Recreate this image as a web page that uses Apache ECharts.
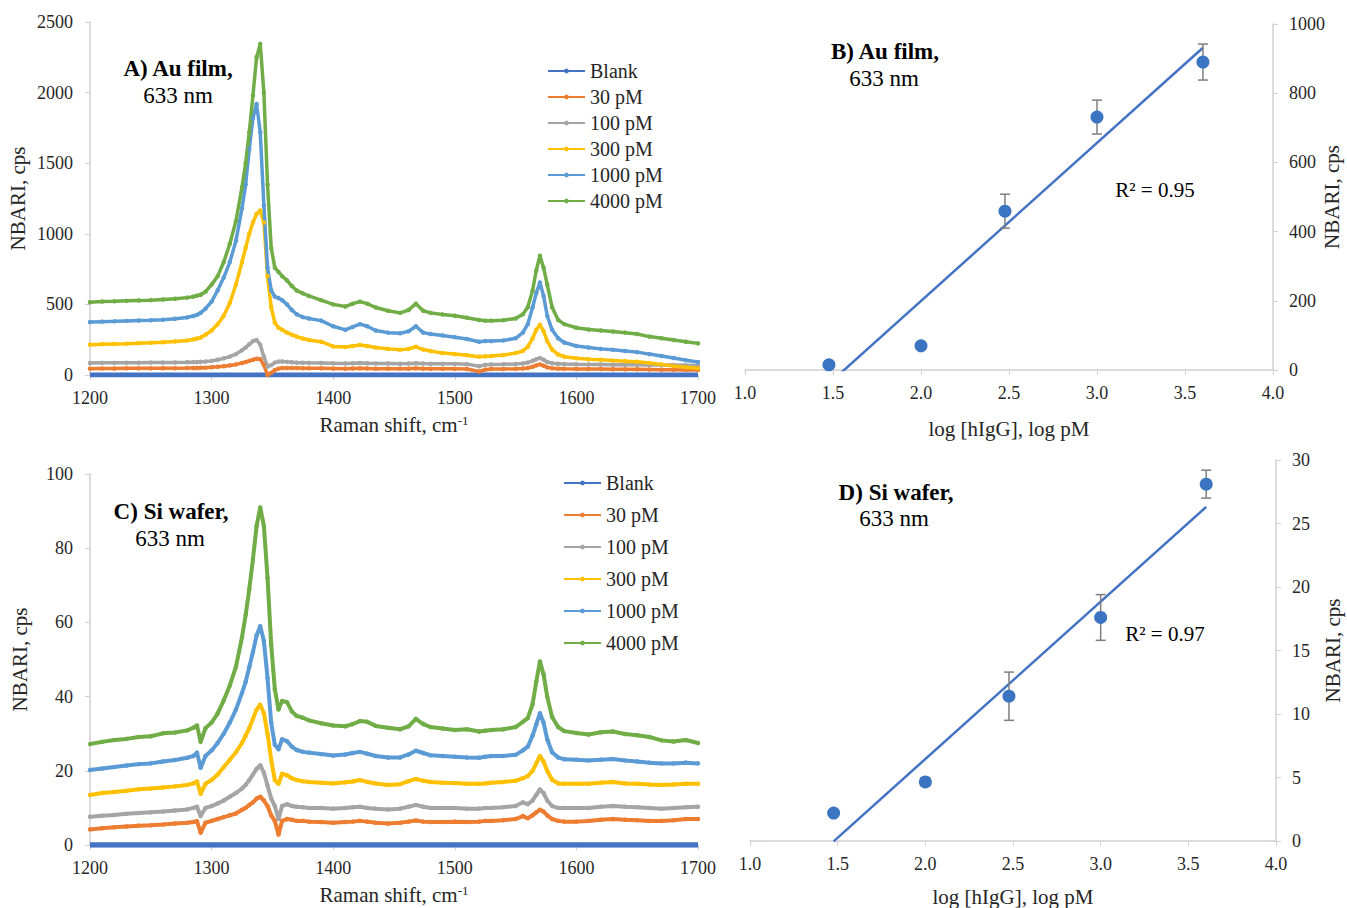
<!DOCTYPE html>
<html>
<head>
<meta charset="utf-8">
<title>NBARI spectra and calibration</title>
<script src="https://cdn.jsdelivr.net/npm/echarts@6/dist/echarts.min.js"></script>
</head>
<body style="margin:0">
<div id="main" style="width:1347px;height:908px;"></div>
<script>
// Raman shift, cm-1 (shared by both spectra panels)
var shift = [1200,1210,1220,1230,1240,1250,1260,1270,1280,
  1285,1288,1291,1295,1300,
  1305,1310,1315,1320,1325,
  1328,1331,1334,1337,1340,1343,1346,1349,1352,1355,1358,
  1362,1366,1370,1375,1380,
  1390,1400,1410,1416,1422,1428,1435,
  1445,1455,1462,1468,1474,1480,
  1490,1500,1510,1520,1525,1530,
  1540,1550,1556,1560,1564,1567,1570,1573,1576,1580,
  1585,1590,1600,1610,1620,1630,1640,1650,1660,1670,1680,1690,1700];

// A) Au film, NBARI (cps)
var auBlank = [0,0,0,0,0,0,0,0,0, 0,0,0,0,0, 0,0,0,0,0, 0,0,0,0,0,0,0,0,0,0,0, 0,0,0,0,0,
  0,0,0,0,0,0,0, 0,0,0,0,0,0, 0,0,0,0,0,0, 0,0,0,0,0,0,0,0,0,0, 0,0,0,0,0,0,0,0,0,0,0,0,0];
var au30 = [45,46,46,47,47,47,48,48,49,
  50,50,51,52,55,
  58,62,68,75,85,
  92,100,108,115,112,70,0,15,35,45,50,
  50,49,49,48,48,
  47,46,45,46,47,46,45,
  45,45,45,47,45,44,
  44,44,43,25,38,42,
  43,44,46,50,58,68,75,66,54,48,
  45,44,43,42,42,41,40,40,39,38,37,36,35];
var au100 = [85,86,86,87,87,88,88,89,90,
  91,92,93,95,100,
  108,118,130,148,175,
  195,218,240,248,215,130,60,70,88,95,96,
  93,90,88,87,86,
  85,83,82,83,85,83,82,
  81,80,81,84,81,80,
  80,79,77,62,72,75,
  76,78,82,88,100,112,120,108,92,84,
  80,78,76,75,74,73,72,72,71,70,70,69,68];
var au300 = [215,218,220,222,225,228,232,238,245,
  252,258,265,285,315,
  360,420,510,640,800,
  900,1000,1080,1140,1165,1080,700,480,370,335,320,
  300,285,272,258,248,
  236,202,198,205,213,205,195,
  185,178,185,200,180,170,
  155,148,140,130,132,135,
  142,155,170,200,260,320,355,310,240,180,
  145,130,118,112,108,102,98,94,85,75,64,55,47];
var au1000 = [375,378,380,383,386,388,392,398,408,
  418,426,440,470,520,
  600,690,800,950,1180,
  1350,1600,1820,1920,1720,1200,760,600,555,545,530,
  500,460,430,410,400,
  385,345,320,340,360,345,315,
  300,295,310,345,300,290,
  280,268,255,236,240,240,
  245,260,300,360,480,580,655,560,420,320,
  260,230,205,195,185,178,170,162,148,135,120,105,92];
var au4000 = [515,520,522,525,528,530,535,540,548,
  555,562,568,590,640,
  700,800,930,1090,1330,
  1500,1720,1980,2250,2345,2000,1350,900,760,730,700,
  670,630,598,578,560,
  530,500,485,505,520,505,478,
  455,440,460,505,455,440,
  428,420,405,390,385,385,
  388,400,430,480,600,740,845,760,640,480,
  390,360,335,322,315,308,300,290,272,260,248,236,224];

// C) Si wafer, NBARI (cps)
var siBlank = [0,0,0,0,0,0,0,0,0, 0,0,0,0,0, 0,0,0,0,0, 0,0,0,0,0,0,0,0,0,0,0, 0,0,0,0,0,
  0,0,0,0,0,0,0, 0,0,0,0,0,0, 0,0,0,0,0,0, 0,0,0,0,0,0,0,0,0,0, 0,0,0,0,0,0,0,0,0,0,0,0,0];
var si30 = [4.2,4.5,4.8,5,5.2,5.3,5.5,5.8,6,
  6.2,6.4,3.3,6,6.5,
  7,7.5,8,8.5,9.5,
  10,10.8,11.5,12.5,13,12,10.5,8,6.5,2.8,6.5,
  7,6.8,6.5,6.5,6.3,
  6.2,6,6.2,6.3,6.5,6.3,6,
  5.8,6,6.3,6.6,6.3,6.2,
  6.2,6.3,6.2,6.3,6.5,6.5,
  6.7,7,7.8,7.2,8,8.8,9.5,9,8,7,
  6.5,6.3,6.3,6.5,6.8,7,6.8,6.7,6.5,6.5,6.7,7,7];
var si100 = [7.6,7.9,8.1,8.4,8.6,8.8,9,9.3,9.6,
  10,10.3,7.8,10,10.5,
  11.2,12,13,14,15.2,
  16.2,17.5,19,20.5,21.5,19.5,16,12.5,10.5,7,10.5,
  11,10.5,10.3,10.2,10,
  10,9.8,10,10.2,10.3,10,9.8,
  9.6,9.8,10.3,10.8,10.3,10,
  10,10,9.8,9.8,10,10,
  10.2,10.5,11.5,11,12,13.5,15,14,12,10.5,
  10,10,10,10,10.3,10.5,10.3,10.2,10,9.8,10,10.2,10.3];
var si300 = [13.5,14,14.3,14.6,15,15.2,15.5,15.8,16.2,
  16.6,17.1,13.8,16.5,17.5,
  19,21,23,25,27.5,
  29.5,31.5,34,36.5,37.8,35.5,30,23,17.5,16.5,19.2,
  18.8,18,17.5,17.2,17,
  16.8,16.6,16.9,17.1,17.5,17,16.6,
  16.2,16.4,17.2,17.8,17.3,17,
  16.8,16.7,16.5,16.5,16.6,16.8,
  17,17.3,18,18.6,20,22,24,22.5,20,17.6,
  16.6,16.5,16.5,16.5,16.8,17,16.6,16.5,16.3,16.2,16.3,16.5,16.5];
var si1000 = [20.2,20.6,21,21.4,21.8,22,22.5,22.9,23.5,
  24,24.9,20.8,24,25.5,
  27.5,30,33,36.5,41,
  44,48,52,56.5,59,55,45,33,27,25.8,28.5,
  28,26.5,25.6,25.1,24.9,
  24.5,24.1,24.4,24.8,25.1,24.6,24,
  23.6,23.6,24.4,25.4,24.8,24.2,
  24,23.8,23.6,23.5,23.8,24,
  24,24.3,25.5,26.5,29.5,32.5,35.5,33,28.5,25,
  23.6,23.1,23,22.8,23,23.2,22.8,22.5,22.2,22,22,22.2,22];
var si4000 = [27.2,27.8,28.3,28.6,29.1,29.3,30.1,30.3,30.9,
  31.6,32.2,27.8,31.5,33,
  35.5,39,43,48,56,
  62,69,77,86,91,86,72,54,42,36.5,38.8,
  38.5,36,34.8,34.3,33.6,
  32.8,32.2,32,32.6,33.4,33.2,32.1,
  31.6,31.2,32,34,32.6,31.8,
  31.4,31,31.2,30.6,30.8,31,
  31.2,31.8,33.2,34.2,38,44,49.5,46,40,34.5,
  31.8,30.7,30.2,29.8,30.4,30.6,29.9,29.6,29.1,28.2,27.9,28.3,27.5];

// B) and D) calibration: log [hIgG] (log pM) vs NBARI (cps)
var logConc = [1.477, 2.0, 2.477, 3.0, 3.602];
var auMean = [15, 70, 459, 731, 890];
var auErr = [5, 6, 49, 49, 52];
var siMean = [2.2, 4.65, 11.4, 17.6, 28.1];
var siErr = [0.15, 0.3, 1.9, 1.8, 1.1];

var names = ['Blank', '30 pM', '100 pM', '300 pM', '1000 pM', '4000 pM'];
var colors = ['#4472C4', '#ED7D31', '#A5A5A5', '#FFC000', '#5B9BD5', '#70AD47'];
var auSets = [auBlank, au30, au100, au300, au1000, au4000];
var siSets = [siBlank, si30, si100, si300, si1000, si4000];

auSets.concat(siSets).forEach(function (s, i) {
    if (s.length !== shift.length) throw new Error('length mismatch in set ' + i + ': ' + s.length);
});

var FONT = '"Liberation Serif", "Times New Roman", serif';
var TXT = '#262626';
var AXC = '#d0d0d0';

function pairs(xs, ys) {
    return xs.map(function (x, i) { return [x, ys[i]]; });
}

// least-squares trend line over the data range
function trend(xs, ys) {
    var n = xs.length, mx = 0, my = 0, sxx = 0, sxy = 0;
    for (var i = 0; i < n; i++) { mx += xs[i] / n; my += ys[i] / n; }
    for (var j = 0; j < n; j++) {
        sxx += (xs[j] - mx) * (xs[j] - mx);
        sxy += (xs[j] - mx) * (ys[j] - my);
    }
    var b = sxy / sxx, a = my - b * mx;
    return [[xs[0], a + b * xs[0]], [xs[n - 1], a + b * xs[n - 1]]];
}

function plain(v) { return String(v); }

function spectrumX(gi) {
    return {
        type: 'value', gridIndex: gi, min: 1200, max: 1700, interval: 100,
        name: 'Raman shift, cm{sup|-1}', nameLocation: 'middle', nameGap: 39,
        nameTextStyle: { fontFamily: FONT, fontSize: 21, color: TXT,
            rich: { sup: { fontFamily: FONT, fontSize: 13, color: TXT, verticalAlign: 'top' } } },
        axisLine: { show: true, lineStyle: { color: AXC, width: 1.5 } },
        axisTick: { show: true, length: 5, lineStyle: { color: AXC } },
        axisLabel: { fontFamily: FONT, fontSize: 18, color: TXT, margin: 14, formatter: plain },
        splitLine: { show: false }
    };
}

function leftY(gi, max, step, gap) {
    return {
        type: 'value', gridIndex: gi, min: 0, max: max, interval: step,
        name: 'NBARI, cps', nameLocation: 'middle', nameGap: gap, nameRotate: 90,
        nameMoveOverlap: false,
        nameTextStyle: { fontFamily: FONT, fontSize: 21, color: TXT },
        axisLine: { show: true, lineStyle: { color: AXC, width: 1.5 } },
        axisTick: { show: true, length: 5, lineStyle: { color: AXC } },
        axisLabel: { fontFamily: FONT, fontSize: 18, color: TXT, margin: 17, formatter: plain },
        splitLine: { show: false }
    };
}

function logX(gi, gap) {
    return {
        type: 'value', gridIndex: gi, min: 1, max: 4, interval: 0.5,
        name: 'log [hIgG], log pM', nameLocation: 'middle', nameGap: gap,
        nameTextStyle: { fontFamily: FONT, fontSize: 21, color: TXT },
        axisLine: { show: true, onZero: false, lineStyle: { color: AXC, width: 1.5 } },
        axisTick: { show: true, length: 5, lineStyle: { color: AXC } },
        axisLabel: { fontFamily: FONT, fontSize: 18, color: TXT, margin: 14,
            formatter: function (v) { return v.toFixed(1); } },
        splitLine: { show: false }
    };
}

function rightY(gi, max, step, gap) {
    var ax = leftY(gi, max, step, gap);
    ax.position = 'right';
    ax.axisLabel.margin = 16;
    return ax;
}

function spectrumSeries(sets, gi, width) {
    return sets.map(function (vals, i) {
        return {
            name: names[i], type: 'line', xAxisIndex: gi, yAxisIndex: gi,
            data: pairs(shift, vals),
            symbol: 'circle', symbolSize: 4.5, showSymbol: i > 0,
            lineStyle: { color: colors[i], width: i === 0 ? width + 1.5 : width },
            itemStyle: { color: colors[i] },
            emphasis: { disabled: true }
        };
    });
}

function errorBars(gi, ys, es) {
    return {
        type: 'custom', xAxisIndex: gi, yAxisIndex: gi, z: 3,
        data: logConc.map(function (x, i) { return [x, ys[i] - es[i], ys[i] + es[i]]; }),
        encode: { x: 0, y: [1, 2] },
        renderItem: function (params, api) {
            var lo = api.coord([api.value(0), api.value(1)]);
            var hi = api.coord([api.value(0), api.value(2)]);
            var w = 5, st = { stroke: '#7f7f7f', lineWidth: 1.5 };
            return { type: 'group', children: [
                { type: 'line', shape: { x1: lo[0], y1: lo[1], x2: hi[0], y2: hi[1] }, style: st },
                { type: 'line', shape: { x1: lo[0] - w, y1: lo[1], x2: lo[0] + w, y2: lo[1] }, style: st },
                { type: 'line', shape: { x1: hi[0] - w, y1: hi[1], x2: hi[0] + w, y2: hi[1] }, style: st }
            ] };
        }
    };
}

function calSeries(gi, ys, es) {
    return [
        { type: 'line', xAxisIndex: gi, yAxisIndex: gi, data: trend(logConc, ys),
          showSymbol: false, lineStyle: { color: '#4472C4', width: 2.5 }, z: 2 },
        errorBars(gi, ys, es),
        { type: 'scatter', xAxisIndex: gi, yAxisIndex: gi, data: pairs(logConc, ys),
          symbolSize: 13, itemStyle: { color: '#3B75C2', opacity: 1 }, z: 4 }
    ];
}

function label(x, y, text, bold, size) {
    return { type: 'text', x: x, y: y,
        style: { text: text, fontFamily: FONT, fontSize: size, fontWeight: bold ? 'bold' : 'normal',
                 fill: '#000', textAlign: 'center', textVerticalAlign: 'middle' } };
}

var legendBase = {
    data: names, orient: 'vertical', itemWidth: 37, itemHeight: 6,
    textStyle: { fontFamily: FONT, fontSize: 20, color: TXT },
    selectedMode: false
};

var chart = echarts.init(document.getElementById('main'), null, { renderer: 'svg' });

chart.setOption({
    animation: false,
    backgroundColor: '#fff',
    grid: [
        { left: 90, top: 22, width: 608, height: 353, outerBoundsMode: 'none' },
        { left: 745, top: 24, width: 528, height: 346, outerBoundsMode: 'none' },
        { left: 90, top: 474, width: 608, height: 371, outerBoundsMode: 'none' },
        { left: 750, top: 460, width: 526, height: 381, outerBoundsMode: 'none' }
    ],
    xAxis: [spectrumX(0), logX(1, 48), spectrumX(2), logX(3, 45)],
    yAxis: [leftY(0, 2500, 500, 62), rightY(1, 1000, 200, 48), leftY(2, 100, 20, 60), rightY(3, 30, 5, 46)],
    legend: [
        Object.assign({}, legendBase, { left: 542, top: 56, itemGap: 6 }),
        Object.assign({}, legendBase, { left: 558, top: 468, itemGap: 12 })
    ],
    graphic: [
        label(178, 68, 'A) Au film,', true, 23),
        label(178, 95, '633 nm', false, 23),
        label(885, 51, 'B) Au film,', true, 23),
        label(884, 78, '633 nm', false, 23),
        label(1155, 190, 'R\u00b2 = 0.95', false, 21),
        label(171, 511, 'C) Si wafer,', true, 23),
        label(170, 538, '633 nm', false, 23),
        label(896, 492, 'D) Si wafer,', true, 23),
        label(894, 518, '633 nm', false, 23),
        label(1165, 634, 'R\u00b2 = 0.97', false, 21)
    ],
    series: []
        .concat(spectrumSeries(auSets, 0, 3.5))
        .concat(calSeries(1, auMean, auErr))
        .concat(spectrumSeries(siSets, 2, 4))
        .concat(calSeries(3, siMean, siErr))
});
</script>
</body>
</html>
